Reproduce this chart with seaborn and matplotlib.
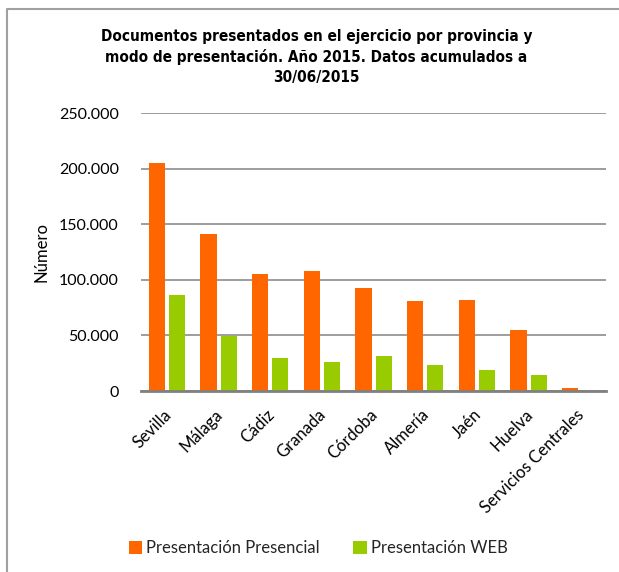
import matplotlib
matplotlib.use("Agg")
import matplotlib.pyplot as plt
from matplotlib import font_manager
from matplotlib.lines import Line2D
from matplotlib.patches import Patch
from matplotlib.ticker import FuncFormatter
from matplotlib.transforms import ScaledTranslation
import seaborn as sns
import pandas as pd

provincias = ["Sevilla", "Málaga", "Cádiz", "Granada", "Córdoba",
              "Almería", "Jaén", "Huelva", "Servicios Centrales"]
presencial = [205500, 141200, 105400, 108100, 92800, 81100, 82300, 55000, 3000]
web = [86200, 49600, 30000, 26100, 31200, 23100, 18900, 14400, 0]
series = ["Presentación Presencial", "Presentación WEB"]
colores = ["#FF6600", "#99CC00"]

df = pd.DataFrame({
    "provincia": provincias * 2,
    "modo": [series[0]] * len(provincias) + [series[1]] * len(provincias),
    "valor": presencial + web,
})

sns.set_theme(style="white")
plt.rcParams["font.family"] = ["Lato", "DejaVu Sans"]

# fuente estrecha para el titulo, si la hay
narrow = [f for f in font_manager.fontManager.ttflist
          if ("Narrow" in f.name or "Condensed" in f.name or f.stretch in ("condensed", "semi-condensed"))]
narrow_bold = [f for f in narrow if f.weight in ("bold", 700)]
title_kw = dict(family=["Roboto", "DejaVu Sans"], fontsize=10)
if narrow_bold:
    title_kw = dict(fontproperties=font_manager.FontProperties(fname=narrow_bold[0].fname, size=11))

fig = plt.figure(figsize=(6.19, 5.72), dpi=100)
ax = fig.add_axes([0.228, 0.3164, 0.751, 0.486])

sns.barplot(data=df, x="provincia", y="valor", hue="modo", palette=colores,
            width=0.78, gap=0.2, ax=ax, legend=False, saturation=1,
            edgecolor="none")

ax.set_ylim(0, 250000)
ax.set_yticks(range(0, 250001, 50000))
ax.yaxis.set_major_formatter(FuncFormatter(lambda v, p: f"{v:,.0f}".replace(",", ".")))
ax.set_xlim(-0.5, len(provincias) - 0.5)
ax.grid(axis="y", color="#8c8c8c", linewidth=1.2)
ax.set_axisbelow(True)
for s in ["left", "right", "top"]:
    ax.spines[s].set_visible(False)
ax.spines["bottom"].set_color("#808080")
ax.spines["bottom"].set_linewidth(2)
ax.tick_params(axis="y", length=0, pad=16, labelsize=11.5, labelcolor="black")
ax.tick_params(axis="x", length=0, pad=11, labelsize=12, labelcolor="black")
plt.setp(ax.get_xticklabels(), rotation=45, ha="right", rotation_mode="anchor")
shift = ScaledTranslation(-4 / 100, 0, fig.dpi_scale_trans)
for lbl in ax.get_xticklabels():
    lbl.set_transform(lbl.get_transform() + shift)
ax.set_xlabel("")
ax.set_ylabel("Número", fontsize=12, color="black", labelpad=7)

fig.text(0.511, 1 - 57 / 572,
         "Documentos presentados en el ejercicio por provincia y\n"
         "modo de presentación. Año 2015. Datos acumulados a\n30/06/2015",
         ha="center", va="center", fontweight="bold", color="black",
         linespacing=1.42, **title_kw)

handles = [Patch(facecolor=c, edgecolor="none") for c in colores]
fig.legend(handles, series, loc="center", bbox_to_anchor=(0.514, 1 - 548 / 572),
           ncol=2, frameon=False, fontsize=12, handlelength=0.8, handleheight=0.8,
           handletextpad=0.25, columnspacing=2.0)

# marco del gráfico
fig.add_artist(Line2D([6.5 / 619, 6.5 / 619, 1.0], [0.0, 1 - 9 / 572, 1 - 9 / 572],
                      transform=fig.transFigure, color="#a0a0a0", linewidth=1.5))

fig.savefig("out.png", dpi=100)
